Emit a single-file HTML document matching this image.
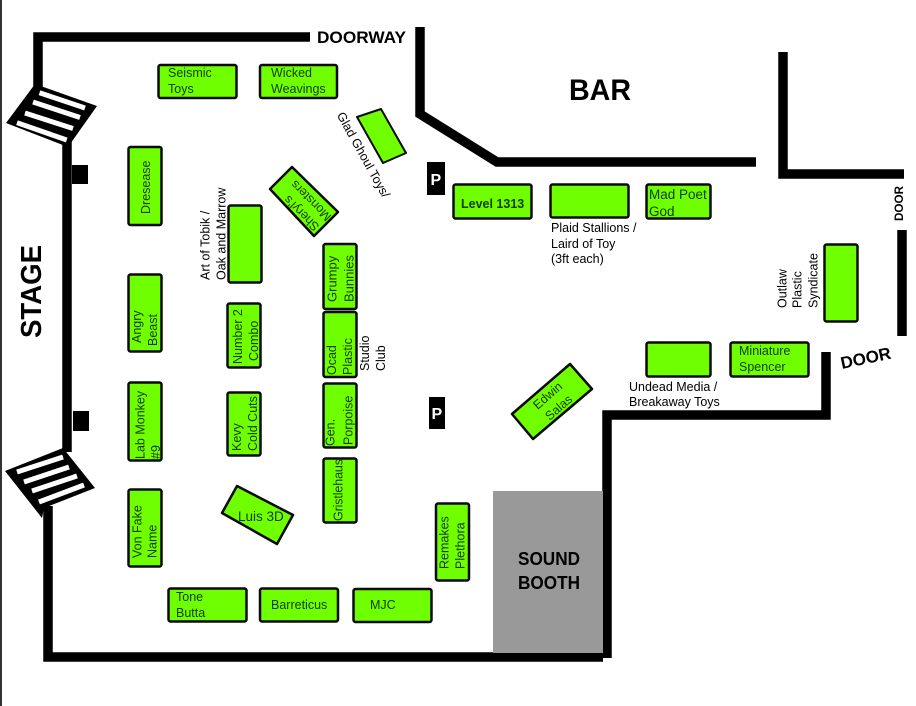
<!DOCTYPE html>
<html><head><meta charset="utf-8"><style>
html,body{margin:0;padding:0;background:#fff;width:916px;height:706px;overflow:hidden}
svg{display:block}
text{font-family:"Liberation Sans",sans-serif;font-size:12.5px;fill:#000}
.g{fill:#143c00}
.b{font-weight:bold}
.box{fill:#6fff00;stroke:#0a0a0a;stroke-width:2.5;stroke-linejoin:round}
.w{fill:none;stroke:#000;stroke-width:9.5;stroke-linejoin:miter}
</style></head><body>
<svg width="916" height="706" viewBox="0 0 916 706" xmlns="http://www.w3.org/2000/svg">
<rect x="0" y="0" width="2" height="706" fill="#333"/>
<!-- walls -->
<path class="w" d="M310 37H38V92"/>
<path class="w" d="M67 136V452"/>
<path class="w" d="M48 506V657H603"/>
<path class="w" d="M607 658V415H826V352"/>
<path class="w" d="M902 230V336"/>
<path class="w" d="M783 52V174H904"/>
<path class="w" d="M420 27V114L497 162H756"/>
<!-- stairs top -->
<polygon points="35,84 97,106 68,147 6,123" fill="#000"/>
<g stroke="#fff" stroke-width="5" fill="none">
<path d="M39.500 92.700L85 108"/>
<path d="M33 102L80 117.500"/>
<path d="M25 113L73 128.500"/>
<path d="M17 122.700L66.700 140"/>
</g>
<!-- stairs bottom -->
<polygon points="63,448 95,488 44,508 42,518 5,471" fill="#000"/>
<g stroke="#fff" stroke-width="5" fill="none">
<path d="M17 472L63 457"/>
<path d="M24 482L69 467"/>
<path d="M32 491L77 476"/>
<path d="M39 502L84 485"/>
</g>
<rect x="72" y="165" width="16" height="19" fill="#000"/>
<rect x="73" y="411" width="16" height="20" fill="#000"/>
<!-- plain boxes -->
<rect class="box" x="158.500" y="65" width="78" height="33" rx="2"/>
<rect class="box" x="260" y="65" width="77" height="33" rx="2"/>
<polygon points="357,117 381,109 406,153 383,163" class="box" style="stroke-width:2"/>
<rect class="box" x="128.500" y="147" width="33" height="78" rx="2"/>
<polygon class="box" points="270,189 292,167 338,212 314,236"/>
<rect class="box" x="228.500" y="205.500" width="33" height="77" rx="2"/>
<rect class="box" x="323.500" y="244" width="33" height="65" rx="2"/>
<rect class="box" x="323.500" y="312" width="33" height="65" rx="2"/>
<rect class="box" x="323.500" y="383.500" width="33" height="64" rx="2"/>
<rect class="box" x="323.500" y="458.500" width="33" height="64" rx="2"/>
<rect class="box" x="128.500" y="274.500" width="33" height="77" rx="2"/>
<rect class="box" x="227.500" y="303.500" width="33" height="64" rx="2"/>
<rect class="box" x="128.500" y="382.500" width="33" height="78" rx="2"/>
<rect class="box" x="227.500" y="392.500" width="33" height="63" rx="2"/>
<rect class="box" x="128.500" y="489.500" width="33" height="77" rx="2"/>
<polygon class="box" points="237,486 293,515 277,544 222,513"/>
<rect class="box" x="168.500" y="588.500" width="78" height="33" rx="2"/>
<rect class="box" x="260" y="588.500" width="78" height="33" rx="2"/>
<rect class="box" x="353.500" y="589" width="78" height="33" rx="2"/>
<rect class="box" x="436" y="503.500" width="33" height="77" rx="2"/>
<polygon class="box" points="570,364 592,389 533,439 512,414"/>
<rect class="box" x="453.500" y="184.500" width="78" height="34" rx="2"/>
<rect class="box" x="550.500" y="184.500" width="78" height="33" rx="2"/>
<rect class="box" x="646.500" y="184.500" width="64" height="34" rx="2"/>
<rect class="box" x="824.500" y="244.500" width="33" height="77" rx="2"/>
<rect class="box" x="646.500" y="342.500" width="64" height="34" rx="2"/>
<rect class="box" x="730.500" y="342.500" width="78" height="34" rx="2"/>
<rect x="493" y="491" width="110" height="162" fill="#999"/>
<!-- P signs -->
<rect x="427" y="162" width="18" height="33" fill="#000"/>
<rect x="429" y="397" width="16" height="32" fill="#000"/>
<text x="430.500" y="185" class="b" style="font-size:16px;fill:#fff">P</text>
<text x="431.500" y="419" class="b" style="font-size:16px;fill:#fff">P</text>
<!-- headings -->
<text x="317" y="43" class="b" style="font-size:17px" textLength="89" lengthAdjust="spacingAndGlyphs">DOORWAY</text>
<text x="569" y="100" class="b" style="font-size:30px" textLength="62" lengthAdjust="spacingAndGlyphs">BAR</text>
<text transform="translate(41,338) rotate(-90)" class="b" style="font-size:29px" textLength="93" lengthAdjust="spacingAndGlyphs">STAGE</text>
<text x="518" y="565" class="b" style="font-size:18px" textLength="62" lengthAdjust="spacingAndGlyphs">SOUND</text>
<text x="518" y="589" class="b" style="font-size:18px" textLength="62" lengthAdjust="spacingAndGlyphs">BOOTH</text>
<text transform="translate(903,221) rotate(-90)" class="b" style="font-size:12px" textLength="35" lengthAdjust="spacingAndGlyphs">DOOR</text>
<text transform="translate(842,369) rotate(-12)" class="b" style="font-size:17px" textLength="51" lengthAdjust="spacingAndGlyphs">DOOR</text>
<!-- horizontal labels -->
<text x="168" y="77" class="g">Seismic</text><text x="168" y="93" class="g">Toys</text>
<text x="271" y="77" class="g">Wicked</text><text x="271" y="93" class="g">Weavings</text>
<text x="176" y="601" class="g">Tone</text><text x="176" y="617" class="g">Butta</text>
<text x="271" y="609" class="g">Barreticus</text>
<text x="370" y="609" class="g">MJC</text>
<text x="461" y="208" class="b g" style="font-size:12.500px">Level 1313</text>
<text x="649" y="199" class="g" style="font-size:13.500px">Mad Poet</text><text x="649" y="216" class="g" style="font-size:13.500px">God</text>
<text x="739" y="355" class="g">Miniature</text><text x="739" y="371" class="g">Spencer</text>
<text x="551" y="232">Plaid Stallions /</text><text x="551" y="248">Laird of Toy</text><text x="551" y="263">(3ft each)</text>
<text x="629" y="391">Undead Media /</text><text x="629" y="406">Breakaway Toys</text>
<text x="238" y="521" class="g" style="font-size:13.500px">Luis 3D</text>
<!-- vertical labels -->
<text transform="translate(150,214) rotate(-90)" class="g">Dresease</text>
<text transform="translate(141,343) rotate(-90)" class="g">Angry</text><text transform="translate(157,346) rotate(-90)" class="g">Beast</text>
<text transform="translate(144.500,459) rotate(-90)" class="g">Lab Monkey</text><text transform="translate(160,459) rotate(-90)" class="g">#9</text>
<text transform="translate(141.500,558) rotate(-90)" class="g">Von Fake</text><text transform="translate(156.500,558) rotate(-90)" class="g">Name</text>
<text transform="translate(242,364) rotate(-90)" class="g">Number 2</text><text transform="translate(258,361) rotate(-90)" class="g">Combo</text>
<text transform="translate(241,451) rotate(-90)" class="g">Kevy</text><text transform="translate(257,451) rotate(-90)" class="g">Cold Cuts</text>
<text transform="translate(336.500,302) rotate(-90)" class="g" style="font-size:13px">Grumpy</text><text transform="translate(353.500,302) rotate(-90)" class="g" style="font-size:13px">Bunnies</text>
<text transform="translate(336,375) rotate(-90)" class="g">Ocad</text><text transform="translate(352,375) rotate(-90)" class="g">Plastic</text>
<text transform="translate(334.500,446) rotate(-90)" class="g">Gen.</text><text transform="translate(352.500,445) rotate(-90)" class="g">Porpoise</text>
<text transform="translate(342.500,521) rotate(-90)" class="g" textLength="62">Gristlehaus</text>
<text transform="translate(448.500,569) rotate(-90)" class="g">Remakes</text><text transform="translate(464.500,569) rotate(-90)" class="g">Plethora</text>
<text transform="translate(209.500,280) rotate(-90)">Art of Tobik /</text><text transform="translate(225.500,280) rotate(-90)">Oak and Marrow</text>
<text transform="translate(369,371) rotate(-90)">Studio</text><text transform="translate(385,371) rotate(-90)">Club</text>
<text transform="translate(786.500,308) rotate(-90)">Outlaw</text><text transform="translate(801.500,308) rotate(-90)">Plastic</text>
<text transform="translate(817.500,308) rotate(-90)">Syndicate</text>
<!-- rotated labels -->
<text transform="translate(336.500,115) rotate(61)">Glad Ghoul Toys/</text>
<text transform="translate(320,226) rotate(-135)" class="g">Sheryl's</text>
<text transform="translate(332,216) rotate(-135)" class="g">Monsters</text>
<text transform="translate(537.600,410) rotate(-41)" class="g">Edwin</text>
<text transform="translate(549.600,421) rotate(-41)" class="g">Salas</text>
</svg>
</body></html>
